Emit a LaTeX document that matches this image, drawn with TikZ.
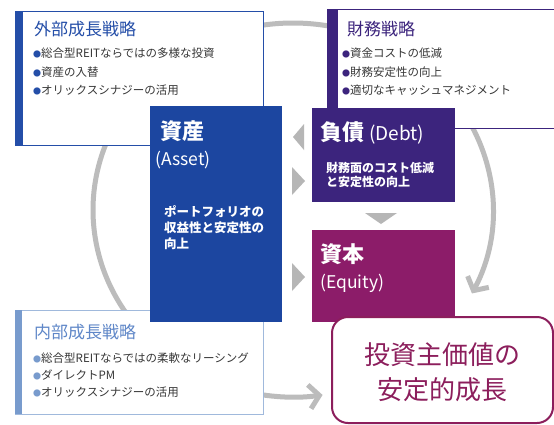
\documentclass[tikz,border=0pt]{standalone}
\usepackage{fontspec}
\setmainfont{Noto Sans CJK JP}
\usetikzlibrary{arrows.meta}
\definecolor{assetblue}{RGB}{28,70,160}
\definecolor{extblue}{RGB}{36,78,168}
\definecolor{debtpurple}{RGB}{60,36,125}
\definecolor{equitymag}{RGB}{140,28,105}
\definecolor{resmag}{RGB}{140,30,92}
\definecolor{intblue}{RGB}{120,155,205}
\definecolor{intborder}{RGB}{160,185,220}
\definecolor{inttitle}{RGB}{95,135,200}
\definecolor{arcgray}{RGB}{188,188,188}
\definecolor{trigray}{RGB}{182,182,182}
\definecolor{bodygray}{RGB}{55,55,55}
\begin{document}
\begin{tikzpicture}[x=1pt,y=-1pt,
  arcline/.style={draw=arcgray, line width=5pt},
  tiparrow/.style={-{Straight Barb[length=10pt,width=24pt]}},
  panel/.style={anchor=north west, inner sep=0, fill=white},
  bar/.style={anchor=north west, inner sep=0},
  tri/.style={fill=trigray},
  txt/.style={anchor=west, inner sep=0},
  title/.style={txt, font=\fontsize{17}{20}\selectfont},
  bul/.style={txt, text=bodygray, font=\fontsize{11.5}{13}\selectfont},
  big/.style={txt, text=white, font=\bfseries\fontsize{22}{26}\selectfont},
  paren/.style={txt, text=white, font=\fontsize{17.5}{20}\selectfont},
  body/.style={txt, text=white, font=\bfseries\fontsize{12.5}{15}\selectfont},
]
\useasboundingbox (0,0) rectangle (554,424);
\clip (0,0) rectangle (554,424);
\fill[white] (0,0) rectangle (554,424);

% background circle arcs
\coordinate (C) at (293,210);
\draw[arcline] (C) ++(105:200pt and 187pt) arc[start angle=105, end angle=75, x radius=200pt, y radius=187pt];
\draw[arcline] (C) ++(150:200pt and 187pt) arc[start angle=150, end angle=220, x radius=200pt, y radius=187pt];
\draw[arcline, tiparrow] (C) ++(35:200pt and 187pt) arc[start angle=35, end angle=-26.5, x radius=200pt, y radius=187pt];
\draw[arcline, tiparrow] (C) ++(255:200pt and 187pt) arc[start angle=255, end angle=278.5, x radius=200pt, y radius=187pt];

% external growth panel
\node[panel, draw=extblue, line width=0.8pt, minimum width=248pt, minimum height=134pt] (ext) at (15,11) {};
\node[bar, fill=extblue, minimum width=8pt, minimum height=134pt] (extbar) at (15,11) {};
\node[title, text=extblue] (extt) at (34,29) {外部成長戦略};
\node[bul] (ext1) at (33,53) {{\fontsize{8}{8}\selectfont\textcolor{extblue}{●}}総合型REITならではの多様な投資};
\node[bul] (ext2) at (33,72) {{\fontsize{8}{8}\selectfont\textcolor{extblue}{●}}資産の入替};
\node[bul] (ext3) at (33,90) {{\fontsize{8}{8}\selectfont\textcolor{extblue}{●}}オリックスシナジーの活用};

% financial strategy panel
\node[panel, draw=debtpurple, line width=0.8pt, minimum width=240pt, minimum height=119pt] (fin) at (327,9) {};
\node[bar, fill=debtpurple, minimum width=11pt, minimum height=119pt] (finbar) at (327,9) {};
\node[title, text=debtpurple] (fint) at (347,29) {財務戦略};
\node[bul] (fin1) at (342,53) {{\fontsize{8}{8}\selectfont\textcolor{debtpurple}{●}}資金コストの低減};
\node[bul] (fin2) at (342,72) {{\fontsize{8}{8}\selectfont\textcolor{debtpurple}{●}}財務安定性の向上};
\node[bul] (fin3) at (342,90) {{\fontsize{8}{8}\selectfont\textcolor{debtpurple}{●}}適切なキャッシュマネジメント};

% internal growth panel
\node[panel, draw=intborder, line width=0.8pt, minimum width=248pt, minimum height=104pt] (int) at (15,310) {};
\node[bar, fill=intblue, minimum width=7pt, minimum height=104pt] (intbar) at (15,310) {};
\node[title, text=inttitle] (intt) at (34,332) {内部成長戦略};
\node[bul] (int1) at (33,358) {{\fontsize{8}{8}\selectfont\textcolor{intblue}{●}}総合型REITならではの柔軟なリーシング};
\node[bul] (int2) at (33,375) {{\fontsize{8}{8}\selectfont\textcolor{intblue}{●}}ダイレクトPM};
\node[bul] (int3) at (33,392) {{\fontsize{8}{8}\selectfont\textcolor{intblue}{●}}オリックスシナジーの活用};

% asset box
\node[bar, fill=assetblue, minimum width=132pt, minimum height=216pt] (asset) at (150,106) {};
\node[big] (assett) at (160,131) {資産};
\node[paren] (assetp) at (155,160) {(Asset)};
\node[body, align=left] (assetb) at (164,228) {ポートフォリオの\\[1pt]収益性と安定性の\\[1pt]向上};

% debt box
\node[bar, fill=debtpurple, minimum width=143pt, minimum height=94pt] (debt) at (312,108) {};
\node[txt, text=white] (debtt) at (320,133) {{\bfseries\fontsize{22}{26}\selectfont 負債}\hspace{5pt}{\fontsize{19}{22}\selectfont(Debt)}};
\node[body, align=left, font=\bfseries\fontsize{12}{14.5}\selectfont] (debtb) at (326,175) {財務面のコスト低減\\と安定性の向上};

% equity box
\node[bar, fill=equitymag, minimum width=143pt, minimum height=92pt] (equity) at (312,230) {};
\node[big] (equityt) at (320,254) {資本};
\node[paren] (equityp) at (320,283) {(Equity)};

% gray triangles
\fill[tri] (293,137) -- (304,124) -- (304,150) -- cycle;
\fill[tri] (305,181) -- (292,167) -- (292,195) -- cycle;
\fill[tri] (305,277) -- (292,263) -- (292,291) -- cycle;
\fill[tri] (381,224) -- (365,213) -- (397,213) -- cycle;

% result box
\node[panel, draw=resmag, line width=2pt, rounded corners=16pt, minimum width=221pt, minimum height=106pt] (result) at (331,316) {};
\node[anchor=center, inner sep=0, text=resmag, font=\fontsize{26}{35}\selectfont, align=center] (resultt) at ([yshift=-2pt]result.center) {投資主価値の\\安定的成長};
\end{tikzpicture}
\end{document}
